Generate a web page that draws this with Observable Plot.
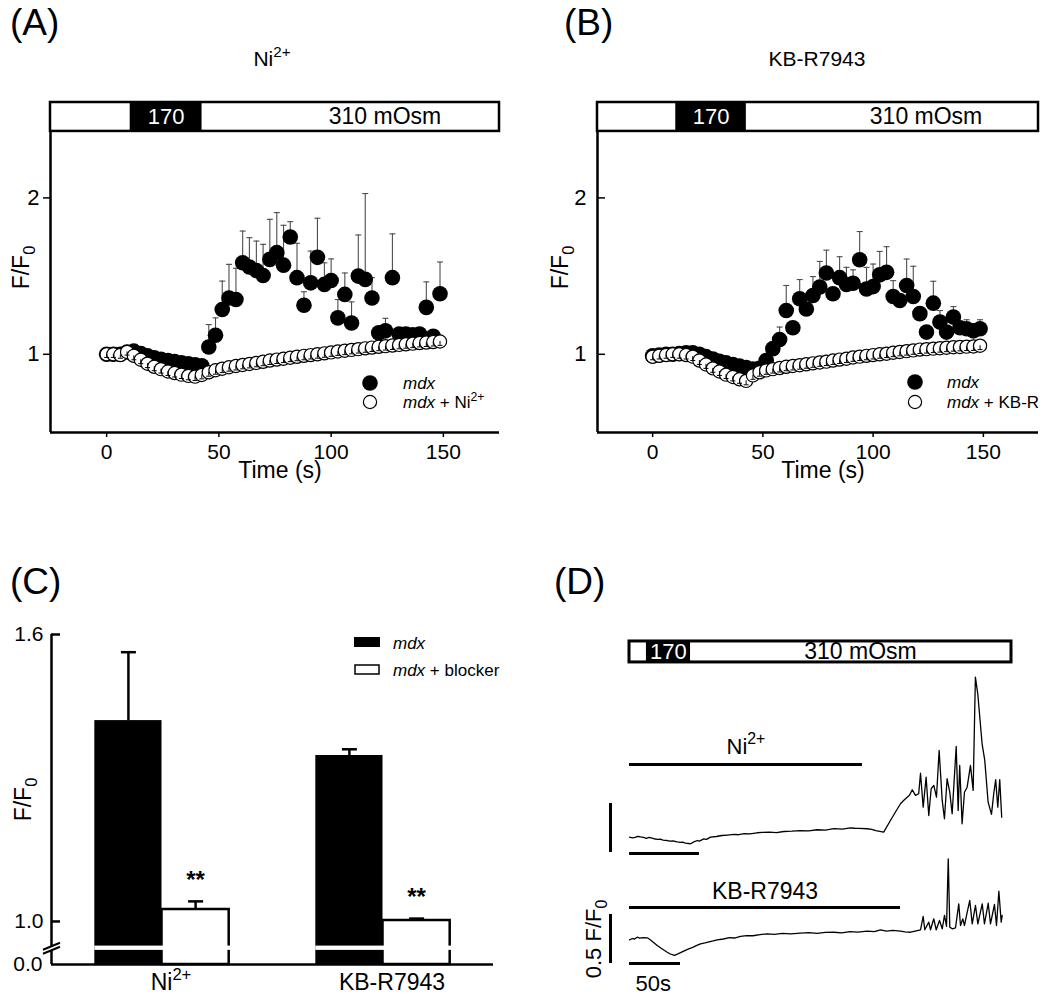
<!DOCTYPE html>
<html><head><meta charset="utf-8">
<script src="https://cdn.jsdelivr.net/npm/d3@7"></script>
<script src="https://cdn.jsdelivr.net/npm/@observablehq/plot@0.6"></script>
<style>
body{margin:0;background:#fff}
#fig{position:relative;width:1050px;height:1002px;overflow:hidden;background:#fff}
#fig svg{overflow:visible}
</style></head><body><div id="fig"></div>
<script>
// ---------------- DATA ----------------
const TIMES = [0,3,6.1,9.1,12.1,15.2,18.2,21.2,24.2,27.3,30.3,33.3,36.4,39.4,42.4,45.5,48.5,51.5,54.5,57.6,60.6,63.6,66.7,69.7,72.7,75.8,78.8,81.8,84.8,87.9,90.9,93.9,97,100,103,106.1,109.1,112.1,115.2,118.2,121.2,124.2,127.3,130.3,133.3,136.4,139.4,142.4,145.5,148.5];

// Panel A (Ni2+)
const A_mdx = [1.0,1.0,1.0,1.015,1.02,1.005,0.99,0.978,0.968,0.96,0.953,0.946,0.94,0.933,0.927,1.047,1.122,1.286,1.36,1.35,1.585,1.558,1.536,1.504,1.607,1.65,1.57,1.75,1.49,1.314,1.457,1.62,1.447,1.472,1.233,1.383,1.2,1.5,1.479,1.36,1.137,1.15,1.49,1.13,1.13,1.125,1.13,1.3,1.115,1.387];
const A_mdxUpper = [null,null,null,null,null,null,null,null,null,null,null,null,null,null,null,1.19,1.233,1.468,1.575,1.55,1.788,1.746,1.724,1.703,1.863,1.906,1.825,1.848,1.71,1.40,1.66,1.87,1.585,1.61,1.35,1.52,1.335,1.763,2.028,1.49,1.17,1.23,1.77,1.16,1.16,1.16,1.16,1.463,1.15,1.59];
const A_blk = [1.0,1.0,0.995,1.015,0.99,0.965,0.94,0.92,0.905,0.89,0.88,0.87,0.862,0.857,0.868,0.885,0.898,0.908,0.917,0.925,0.932,0.938,0.945,0.952,0.96,0.966,0.972,0.978,0.984,0.99,0.995,1.0,1.006,1.012,1.018,1.023,1.028,1.033,1.038,1.043,1.048,1.052,1.056,1.06,1.064,1.068,1.072,1.075,1.078,1.082];
const A_blkSem = [0.02,0.02,0.02,0.02,0.025,0.025,0.025,0.025,0.025,0.025,0.025,0.025,0.025,0.025,0.025,0.025,0.025,0.025,0.025,0.025,0.025,0.025,0.025,0.025,0.025,0.025,0.025,0.025,0.025,0.025,0.025,0.025,0.025,0.025,0.025,0.025,0.025,0.025,0.025,0.025,0.025,0.025,0.025,0.025,0.025,0.025,0.025,0.025,0.025,0.025];

// Panel B (KB-R7943)
const B_mdx = [0.99,0.995,1.0,1.0,1.005,1.01,1.01,1.0,0.985,0.97,0.955,0.945,0.935,0.925,0.915,0.905,0.91,0.96,1.036,1.094,1.28,1.17,1.355,1.29,1.376,1.43,1.52,1.387,1.49,1.446,1.454,1.605,1.418,1.433,1.508,1.524,1.37,1.344,1.44,1.37,1.26,1.142,1.327,1.206,1.142,1.238,1.17,1.163,1.15,1.163];
const B_mdxUpper = [null,null,null,null,null,null,null,null,null,null,null,null,null,null,null,null,null,null,null,1.174,1.44,null,1.478,null,1.497,1.594,1.666,null,1.624,1.556,1.54,1.785,1.556,1.577,1.658,1.688,1.471,null,1.609,1.563,null,null,1.467,1.28,null,1.305,null,1.221,null,1.221];
const B_blk = [0.985,0.99,0.995,1.0,1.0,0.995,0.985,0.96,0.935,0.91,0.89,0.87,0.855,0.84,0.83,0.865,0.885,0.897,0.905,0.912,0.92,0.925,0.93,0.936,0.942,0.948,0.953,0.96,0.966,0.972,0.98,0.985,0.99,0.995,1.0,1.004,1.01,1.015,1.02,1.025,1.03,1.033,1.036,1.039,1.042,1.045,1.047,1.049,1.05,1.055];
const B_blkSem = A_blkSem;

// Solution protocol (s)
const PROTOCOL_AB = [{label:"", start:-25, end:10.5},{label:"170", start:10.5, end:42.5},{label:"310 mOsm", start:42.5, end:175}];

// Panel C
const C_GROUPS = ["Ni^{2+}", "KB-R7943"];
const C_MDX = [1.42, 1.347];
const C_MDX_SEM = [0.143, 0.013];
const C_BLK = [1.025, 1.002];
const C_BLK_SEM = [0.017, 0.004];
const C_SIG = ["**", "**"];

// Panel D traces: [time (s), F/F0]
const D_PROTOCOL = [{label:"", start:0, end:12.1},{label:"170", start:12.1, end:43.6},{label:"310 mOsm", start:43.6, end:272.9}];
const D_NI_APP = {label:"Ni^{2+}", start:0, end:166.4};
const D_KB_APP = {label:"KB-R7943", start:0, end:265.7};
const D_SCALE_T = 50, D_SCALE_F = 0.5;
const NI_TRACE = [[0,1.003],[2,0.995],[4,1.0],[6,1.012],[7.9,1.005],[10,1.0],[12,0.992],[14,1.0],[17.4,0.987],[20,0.98],[22,0.984],[24,0.972],[26.9,0.969],[29,0.962],[31,0.966],[34,0.955],[36.4,0.949],[38,0.952],[40,0.942],[43.6,0.936],[46,0.955],[48.4,0.969],[50,0.962],[53,0.985],[55,0.98],[57.9,1.003],[62,1.01],[66,1.02],[70,1.025],[74.5,1.031],[78,1.028],[82,1.04],[86,1.036],[91.2,1.048],[95,1.052],[100,1.055],[105,1.05],[110.2,1.061],[116,1.064],[122,1.07],[128,1.068],[134.1,1.079],[140,1.076],[146,1.09],[152,1.086],[157.9,1.099],[161,1.094],[164,1.092],[169.8,1.089],[173,1.082],[176,1.07],[181.6,1.054],[186.4,1.173],[190,1.26],[193.6,1.344],[196,1.38],[198.4,1.411],[200,1.43],[202,1.487],[204.3,1.429],[206.6,1.446],[207.9,1.656],[209.8,1.309],[211.9,1.615],[213.8,1.224],[215.5,1.497],[217.4,1.531],[219.3,1.411],[221.2,1.888],[223.4,1.378],[225,1.191],[226.9,1.599],[228.8,1.462],[230.5,1.242],[233.4,1.929],[234.8,1.276],[235.9,1.735],[237.6,1.14],[239.3,1.462],[241.2,1.513],[243.6,1.735],[245.5,1.48],[247.1,2.636],[248.8,2.466],[251.9,1.956],[253.8,1.786],[256.2,1.36],[258.6,1.235],[260.2,1.446],[261.6,1.589],[263.1,1.309],[264.5,1.589],[265.9,1.207]];
const KB_TRACE = [[0,0.997],[3,1.01],[5,1.005],[7.5,1.023],[10,1.015],[13,1.02],[17.4,1.017],[20,1.0],[23,0.975],[27.2,0.939],[31,0.91],[34,0.89],[37,0.87],[40,0.852],[44.1,0.837],[48,0.855],[53.2,0.881],[58,0.905],[62,0.92],[66,0.94],[69.6,0.956],[74,0.965],[78,0.975],[82,0.985],[86,0.997],[92,1.005],[98,1.02],[103,1.015],[108.8,1.031],[115,1.04],[121,1.038],[128,1.05],[135,1.058],[142,1.052],[150,1.062],[158,1.058],[167.6,1.064],[176,1.07],[184,1.062],[192,1.072],[200.3,1.074],[208,1.068],[216,1.08],[224,1.075],[233,1.085],[240,1.08],[246.1,1.099],[252,1.086],[258,1.092],[265.7,1.085],[270,1.078],[275.5,1.074],[280,1.086],[285.3,1.099],[287.9,1.235],[289.5,1.099],[293.4,1.177],[295.1,1.099],[298.3,1.211],[300.7,1.099],[303.9,1.194],[306.6,1.109],[308.8,1.245],[310.8,1.133],[312.5,1.823],[314,1.126],[316.4,1.109],[319.6,1.119],[322.8,1.364],[324.5,1.143],[326.8,1.211],[328.4,1.143],[331.1,1.279],[333.6,1.398],[336,1.16],[339.2,1.347],[341.5,1.16],[345.8,1.364],[348,1.16],[351.7,1.37],[353.9,1.16],[357.8,1.357],[359.8,1.143],[362.1,1.493],[364.4,1.177],[365.4,1.245]];

// ---------------- HELPERS ----------------
const NS = "http://www.w3.org/2000/svg";
const FONT = "Liberation Sans, Arial, sans-serif";
const STYLE = {fontFamily: FONT, fontSize: "21px", color: "black", background: "transparent", overflow: "visible"};
const fig = document.getElementById("fig");
function place(node, left, top) {
  node.style.position = "absolute"; node.style.left = left + "px"; node.style.top = top + "px";
  fig.appendChild(node); return node;
}
function appendRich(el, str, fs) {
  const parts = str.split(/(_\{[^}]*\}|\^\{[^}]*\}|_[^\s{}]|\^[^\s{}])/);
  let offset = 0;
  for (const p of parts) {
    if (!p) continue;
    const ts = document.createElementNS(NS, "tspan");
    let target = 0, txt = p, small = false;
    if (p[0] === "_" || p[0] === "^") {
      small = true;
      target = p[0] === "_" ? 0.28 * fs : -0.42 * fs;
      txt = p.slice(1).replace(/^\{/, "").replace(/\}$/, "");
    }
    if (target - offset !== 0) ts.setAttribute("dy", target - offset);
    offset = target;
    if (small) ts.setAttribute("font-size", 0.72 * fs);
    ts.textContent = txt;
    el.appendChild(ts);
  }
}
function richify(root) {
  root.querySelectorAll("text").forEach(el => {
    if (el.children.length) return;
    const s = el.textContent;
    if (!/[_^]/.test(s)) return;
    const fs = parseFloat(getComputedStyle(el).fontSize);
    el.textContent = "";
    appendRich(el, s, fs);
  });
}
const CAP = {draw(ctx, size) { const r = Math.sqrt(size / Math.PI); ctx.moveTo(-r, 0); ctx.lineTo(r, 0); }};

// ---------------- PANELS A & B ----------------
const T_DOMAIN = [-25, 175], F_DOMAIN = [0.5, 2.61], BAR_LO = 2.425, BAR_HI = 2.61;
const X_TICKS = [0, 50, 100, 150], Y_TICKS = [1, 2];
const LABEL310_AT = 124;

function scatterPanel(cfg) {
  const filled = TIMES.map((t, i) => ({t, v: cfg.mdx[i], u: cfg.upper[i]}));
  const open = TIMES.map((t, i) => ({t, v: cfg.blk[i], l: cfg.blk[i] - cfg.sem[i]}));
  const withErr = filled.filter(d => d.u != null);
  const black = PROTOCOL_AB.filter(d => d.label === "170");
  const white = PROTOCOL_AB.filter(d => d.label !== "170");
  return Plot.plot({
    width: cfg.width, height: 400,
    marginLeft: cfg.ml, marginRight: cfg.mr, marginTop: 22, marginBottom: 48,
    x: {domain: T_DOMAIN}, y: {domain: F_DOMAIN},
    style: STYLE,
    marks: [
      Plot.rect(white, {x1: "start", x2: "end", y1: BAR_LO, y2: BAR_HI, fill: "white"}),
      Plot.rect(black, {x1: "start", x2: "end", y1: BAR_LO, y2: BAR_HI, fill: "black"}),
      Plot.rect([T_DOMAIN], {x1: d => d[0], x2: d => d[1], y1: BAR_LO, y2: BAR_HI, fill: "none", stroke: "black", strokeWidth: 2.5}),
      Plot.text(black, {x: d => (d.start + d.end) / 2, y: (BAR_LO + BAR_HI) / 2, text: "label", fill: "white", fontSize: 22}),
      Plot.text(white.filter(d => d.label), {x: LABEL310_AT, y: (BAR_LO + BAR_HI) / 2, text: "label", fill: "black", fontSize: 23}),
      Plot.ruleX([T_DOMAIN[0]], {y1: F_DOMAIN[0], y2: BAR_LO, strokeWidth: 2.5}),
      Plot.ruleY([F_DOMAIN[0]], {strokeWidth: 2.5}),
      Plot.axisX(X_TICKS, {tickSize: 5, tickPadding: 7, fontSize: 21, label: null, strokeWidth: 1.5}),
      Plot.axisY(Y_TICKS, {tickSize: cfg.yTick, tickPadding: cfg.yPad, tickFormat: d3.format("d"), fontSize: 22, label: null, strokeWidth: 1.5}),
      Plot.text(["Time (s)"], {frameAnchor: "bottom", dy: 38, dx: 5, lineAnchor: "middle", textAnchor: "middle", fontSize: 23}),
      Plot.text(["F/F_0"], {frameAnchor: "left", dx: cfg.yLabelDx, rotate: -90, lineAnchor: "middle", textAnchor: "middle", fontSize: 23}),
      Plot.ruleX(withErr, {x: "t", y1: "v", y2: "u", stroke: "#4d4d4d", strokeWidth: 1.1}),
      Plot.dot(withErr, {x: "t", y: "u", symbol: CAP, r: 3, stroke: "#4d4d4d", strokeWidth: 1.1, fill: "none"}),
      Plot.dot(filled, {x: "t", y: "v", r: 7.8, fill: "black"}),
      Plot.dot(open, {x: "t", y: "v", r: 6.6, fill: "white", stroke: "black", strokeWidth: 1.2}),
      Plot.ruleX(open, {x: "t", y1: "l", y2: "v", stroke: "black", strokeWidth: 1}),
      Plot.dot(open, {x: "t", y: "l", symbol: CAP, r: 2.5, stroke: "black", strokeWidth: 1, fill: "none"})
    ]
  });
}
place(scatterPanel({mdx: A_mdx, upper: A_mdxUpper, blk: A_blk, sem: A_blkSem, width: 520, ml: 50, mr: 21, yTick: 7, yPad: 4, yLabelDx: -29}), 0, 80);
place(scatterPanel({mdx: B_mdx, upper: B_mdxUpper, blk: B_blk, sem: B_blkSem, width: 530, ml: 77, mr: 12, yTick: -8, yPad: 19, yLabelDx: -37}), 520, 80);

// ---------------- PANEL C ----------------
const C_ZERO = 0.91, C_BREAK = 0.944, C_BAR_W = 0.152;
const cCenter = i => 0.25 + 0.5 * i;
const cBars = [];
C_GROUPS.forEach((g, i) => {
  cBars.push({i, s: 0, x1: cCenter(i) - C_BAR_W, x2: cCenter(i), v: C_MDX[i], e: C_MDX_SEM[i]});
  cBars.push({i, s: 1, x1: cCenter(i), x2: cCenter(i) + C_BAR_W, v: C_BLK[i], e: C_BLK_SEM[i], sig: C_SIG[i]});
});
const cPlot = Plot.plot({
  width: 530, height: 440, marginLeft: 51, marginRight: 37, marginTop: 74, marginBottom: 36,
  x: {domain: [0, 1], axis: null}, y: {domain: [C_ZERO, 1.6]},
  style: STYLE,
  marks: [
    Plot.rect(cBars.filter(d => d.s === 0), {x1: "x1", x2: "x2", y1: C_ZERO, y2: "v", fill: "black"}),
    Plot.rect(cBars.filter(d => d.s === 1), {x1: "x1", x2: "x2", y1: C_ZERO, y2: "v", fill: "white", stroke: "black", strokeWidth: 2.5}),
    Plot.rect(C_GROUPS.map((g, i) => i), {x1: i => cCenter(i) - C_BAR_W, x2: i => cCenter(i) + C_BAR_W, y1: C_BREAK - 0.0045, y2: C_BREAK + 0.0045, fill: "white", insetRight: -3}),
    Plot.ruleX([0], {y1: C_ZERO, y2: 1.6, strokeWidth: 2.5}),
    Plot.ruleY([C_ZERO], {strokeWidth: 2.5}),
    Plot.ruleX(cBars, {x: d => (d.x1 + d.x2) / 2, y1: "v", y2: d => d.v + d.e, strokeWidth: 2.5}),
    Plot.dot(cBars, {x: d => (d.x1 + d.x2) / 2, y: d => d.v + d.e, symbol: CAP, r: 7.5, stroke: "black", strokeWidth: 2.5, fill: "none"}),
    Plot.text(cBars.filter(d => d.sig), {x: d => (d.x1 + d.x2) / 2, y: d => d.v + d.e, text: "sig", dy: -21, fontSize: 24, fontWeight: "bold"}),
    Plot.axisY([1.0, 1.6], {tickSize: -9, tickPadding: 17, tickFormat: d3.format(".1f"), fontSize: 21, label: null, strokeWidth: 2.5}),
    Plot.axisY([C_ZERO], {tickSize: 0, tickPadding: 9, tickFormat: () => "0.0", fontSize: 21, label: null}),
    Plot.text(C_GROUPS, {x: (d, i) => cCenter(i), frameAnchor: "bottom", dy: 18, dx: 9, lineAnchor: "middle", fontSize: 23}),
    Plot.text(["F/F_0"], {frameAnchor: "left", dx: -28, rotate: -90, lineAnchor: "middle", textAnchor: "middle", fontSize: 23})
  ]
});
place(cPlot, 0, 560);
{
  const xb = cPlot.scale("x").apply(0), yb = cPlot.scale("y").apply(C_BREAK);
  const g = d3.select(cPlot).append("g");
  g.append("path").attr("d", `M${xb-8},${yb+2}L${xb+9},${yb-5}L${xb+9},${yb-1}L${xb-8},${yb+6}Z`).attr("fill", "white");
  g.append("line").attr("x1", xb-8).attr("y1", yb+2).attr("x2", xb+9).attr("y2", yb-5).attr("stroke", "black").attr("stroke-width", 2);
  g.append("line").attr("x1", xb-8).attr("y1", yb+6).attr("x2", xb+9).attr("y2", yb-1).attr("stroke", "black").attr("stroke-width", 2);
}

// ---------------- PANEL D ----------------
const D_BAR_LO = 2.786, D_BAR_HI = 3.0, D310_AT = 165;
const NI_APP_Y = 1.745, NI_SB_Y = 0.847, NI_HB_Y = 0.837;
const KB_APP_Y = 1.327, KB_SB_Y = 0.755, KB_HB_Y = 0.755;
const dNi = Plot.plot({
  width: 470, height: 235, marginLeft: 49, marginRight: 39, marginTop: 0, marginBottom: 0,
  x: {domain: [0, 272.9], axis: null}, y: {domain: [0.714, 3.112], axis: null},
  style: STYLE,
  marks: [
    Plot.rect(D_PROTOCOL.filter(d => d.label !== "170"), {x1: "start", x2: "end", y1: D_BAR_LO, y2: D_BAR_HI, fill: "white"}),
    Plot.rect(D_PROTOCOL.filter(d => d.label === "170"), {x1: "start", x2: "end", y1: D_BAR_LO, y2: D_BAR_HI, fill: "black"}),
    Plot.rect([D_PROTOCOL], {x1: d => d[0].start, x2: d => d[d.length - 1].end, y1: D_BAR_LO, y2: D_BAR_HI, fill: "none", stroke: "black", strokeWidth: 3}),
    Plot.text(D_PROTOCOL.filter(d => d.label === "170"), {x: d => (d.start + d.end) / 2, y: (D_BAR_LO + D_BAR_HI) / 2, text: "label", fill: "white", fontSize: 22}),
    Plot.text(D_PROTOCOL.filter(d => d.label === "310 mOsm"), {x: D310_AT, y: (D_BAR_LO + D_BAR_HI) / 2, text: "label", fontSize: 23}),
    Plot.ruleY([D_NI_APP], {x1: "start", x2: "end", y: NI_APP_Y, strokeWidth: 3}),
    Plot.text([D_NI_APP], {x: d => (d.start + d.end) / 2, y: NI_APP_Y, dy: -18, text: "label", fontSize: 22}),
    Plot.line(NI_TRACE, {x: d => d[0], y: d => d[1], strokeWidth: 1.3}),
    Plot.ruleX([0], {y1: NI_SB_Y, y2: NI_SB_Y + D_SCALE_F, dx: -19, strokeWidth: 3}),
    Plot.ruleY([NI_HB_Y], {x1: 0, x2: D_SCALE_T, strokeWidth: 3})
  ]
});
place(dNi, 580, 630);
const dKb = Plot.plot({
  width: 470, height: 137, marginLeft: 49, marginRight: 39, marginTop: 0, marginBottom: 0,
  x: {domain: [0, 374.5], axis: null}, y: {domain: [0.357, 1.755], axis: null},
  style: STYLE,
  marks: [
    Plot.ruleY([D_KB_APP], {x1: "start", x2: "end", y: KB_APP_Y, strokeWidth: 3}),
    Plot.text([D_KB_APP], {x: d => (d.start + d.end) / 2, y: KB_APP_Y, dy: -16, text: "label", fontSize: 23}),
    Plot.line(KB_TRACE, {x: d => d[0], y: d => d[1], strokeWidth: 1.3}),
    Plot.ruleX([0], {y1: KB_SB_Y, y2: KB_SB_Y + D_SCALE_F, dx: -19, strokeWidth: 3}),
    Plot.ruleY([KB_HB_Y], {x1: 0, x2: D_SCALE_T, strokeWidth: 3}),
    Plot.text([D_SCALE_T + "s"], {x: 0, y: KB_HB_Y, dx: 6, dy: 20, textAnchor: "start", fontSize: 22}),
    Plot.text([D_SCALE_F + " F/F_0"], {x: 0, y: KB_SB_Y + D_SCALE_F / 2, dx: -36, rotate: -90, fontSize: 22})
  ]
});
place(dKb, 580, 865);

// ---------------- OVERLAY: panel letters, titles, legends ----------------
const ov = d3.create("svg").attr("width", 1050).attr("height", 1002)
  .style("font-family", FONT).style("pointer-events", "none");
place(ov.node(), 0, 0);
function txt(x, y, fs, anchor = "start") {
  return ov.append("text").attr("x", x).attr("y", y).attr("font-size", fs).attr("text-anchor", anchor);
}
[["(A)", 10, 35], ["(B)", 564, 35], ["(C)", 10, 594], ["(D)", 554, 594]].forEach(([s, x, y]) => txt(x, y, 37).text(s));
appendRich(txt(272, 66, 21, "middle").node(), "Ni^{2+}", 21);
txt(817, 66, 21, "middle").text("KB-R7943");
function legendLine(x, y, blocker, fs) {
  const t = txt(x, y, fs);
  t.append("tspan").attr("font-style", "italic").text("mdx");
  if (blocker) appendRich(t.node(), " + " + blocker, fs);
}
// Panel A legend
ov.append("circle").attr("cx", 370).attr("cy", 383).attr("r", 7.8).attr("fill", "black");
ov.append("circle").attr("cx", 370).attr("cy", 402).attr("r", 6.6).attr("fill", "white").attr("stroke", "black").attr("stroke-width", 1.2);
legendLine(403, 389, null, 17); legendLine(403, 408, "Ni^{2+}", 17);
// Panel B legend
ov.append("circle").attr("cx", 915).attr("cy", 382).attr("r", 7.8).attr("fill", "black");
ov.append("circle").attr("cx", 915).attr("cy", 402).attr("r", 6.6).attr("fill", "white").attr("stroke", "black").attr("stroke-width", 1.2);
legendLine(947, 388, null, 17); legendLine(947, 408, "KB-R", 17);
// Panel C legend
ov.append("rect").attr("x", 354).attr("y", 637).attr("width", 26).attr("height", 10).attr("fill", "black");
ov.append("rect").attr("x", 355).attr("y", 665).attr("width", 24).attr("height", 9).attr("fill", "white").attr("stroke", "black").attr("stroke-width", 1.5);
legendLine(393, 649, null, 17); legendLine(393, 676, "blocker", 17);

richify(fig);
</script></body></html>
